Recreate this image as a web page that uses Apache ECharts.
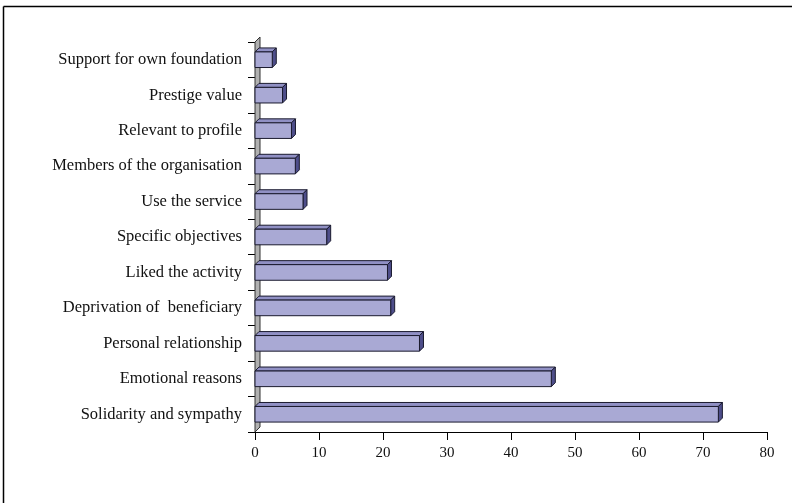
<!DOCTYPE html>
<html>
<head>
<meta charset="utf-8">
<script src="https://cdn.jsdelivr.net/npm/echarts@6/dist/echarts.min.js"></script>
<style>
  html, body { margin: 0; padding: 0; background: #fff; }
  #chart { width: 792px; height: 503px; }
</style>
</head>
<body>
<div id="chart"></div>
<script>
// Reasons for giving, share of respondents (%), listed bottom to top
const categories = [
  'Solidarity and sympathy',
  'Emotional reasons',
  'Personal relationship',
  'Deprivation of  beneficiary',
  'Liked the activity',
  'Specific objectives',
  'Use the service',
  'Members of the organisation',
  'Relevant to profile',
  'Prestige value',
  'Support for own foundation'
];
const values = [72.4, 46.3, 25.7, 21.2, 20.7, 11.2, 7.5, 6.3, 5.7, 4.3, 2.7];
const xTicks = [0, 80, 10]; // min, max, step

const DX = 4, DY = 4;           // depth of the 3D extrusion
const FRONT = '#a9a9d4', TOP = '#9090c4', SIDE = '#4e4e8a', EDGE = '#1a1a2e';

const chart = echarts.init(document.getElementById('chart'));

function renderBar(params, api) {
  const v = api.value(1);
  const c = api.value(0);
  const start = api.coord([0, c]);
  const end = api.coord([v, c]);
  const band = api.size([0, 1])[1];
  const h = band * 0.44;
  const x0 = start[0], x1 = end[0];
  const y0 = start[1] - h / 2, y1 = start[1] + h / 2;
  const style = (fill) => ({ fill: fill, stroke: EDGE, lineWidth: 1 });
  return {
    type: 'group',
    children: [
      { type: 'polygon', shape: { points: [[x0, y0], [x0 + DX, y0 - DY], [x1 + DX, y0 - DY], [x1, y0]] }, style: style(TOP) },
      { type: 'polygon', shape: { points: [[x1, y0], [x1 + DX, y0 - DY], [x1 + DX, y1 - DY], [x1, y1]] }, style: style(SIDE) },
      { type: 'rect', shape: { x: x0, y: y0, width: x1 - x0, height: y1 - y0 }, style: style(FRONT) }
    ]
  };
}

function renderWall(params, api) {
  const bottom = api.coord([0, 0]);
  const band = api.size([0, 1])[1];
  const x = bottom[0];
  const yb = bottom[1] + band / 2;
  const yt = yb - band * categories.length;
  return {
    type: 'polygon',
    shape: { points: [[x, yb], [x, yt], [x + DX + 1, yt - DY - 1], [x + DX + 1, yb - DY - 1]] },
    style: { fill: '#b0b0b0', stroke: '#333', lineWidth: 1 }
  };
}

chart.setOption({
  animation: false,
  backgroundColor: '#fff',
  textStyle: { fontFamily: 'Liberation Serif' },
  grid: { left: 255, right: 25, top: 42, bottom: 71 },
  xAxis: {
    type: 'value',
    min: xTicks[0], max: xTicks[1], interval: xTicks[2],
    axisLine: { show: true, lineStyle: { color: '#000', width: 1 } },
    axisTick: { show: true, length: 8, lineStyle: { color: '#000' } },
    axisLabel: { color: '#111', fontSize: 15, margin: 14, fontFamily: 'Liberation Serif' },
    splitLine: { show: false }
  },
  yAxis: {
    type: 'category',
    data: categories,
    axisLine: { show: false },
    axisTick: { show: true, length: 7, lineStyle: { color: '#000' } },
    axisLabel: { color: '#111', fontSize: 16.5, margin: 13, fontFamily: 'Liberation Serif' }
  },
  graphic: [
    { type: 'line', shape: { x1: 3.5, y1: 6.5, x2: 792, y2: 6.5 }, style: { stroke: '#000', lineWidth: 1.5 } },
    { type: 'line', shape: { x1: 3.5, y1: 6.5, x2: 3.5, y2: 503 }, style: { stroke: '#000', lineWidth: 1.5 } }
  ],
  series: [
    {
      type: 'custom',
      renderItem: renderWall,
      data: [[0, 0]],
      encode: { x: 0, y: 1 },
      z: 1,
      silent: true
    },
    {
      type: 'custom',
      renderItem: renderBar,
      data: values.map((v, i) => [i, v]),
      encode: { x: 1, y: 0 },
      z: 2
    }
  ]
});
</script>
</body>
</html>
